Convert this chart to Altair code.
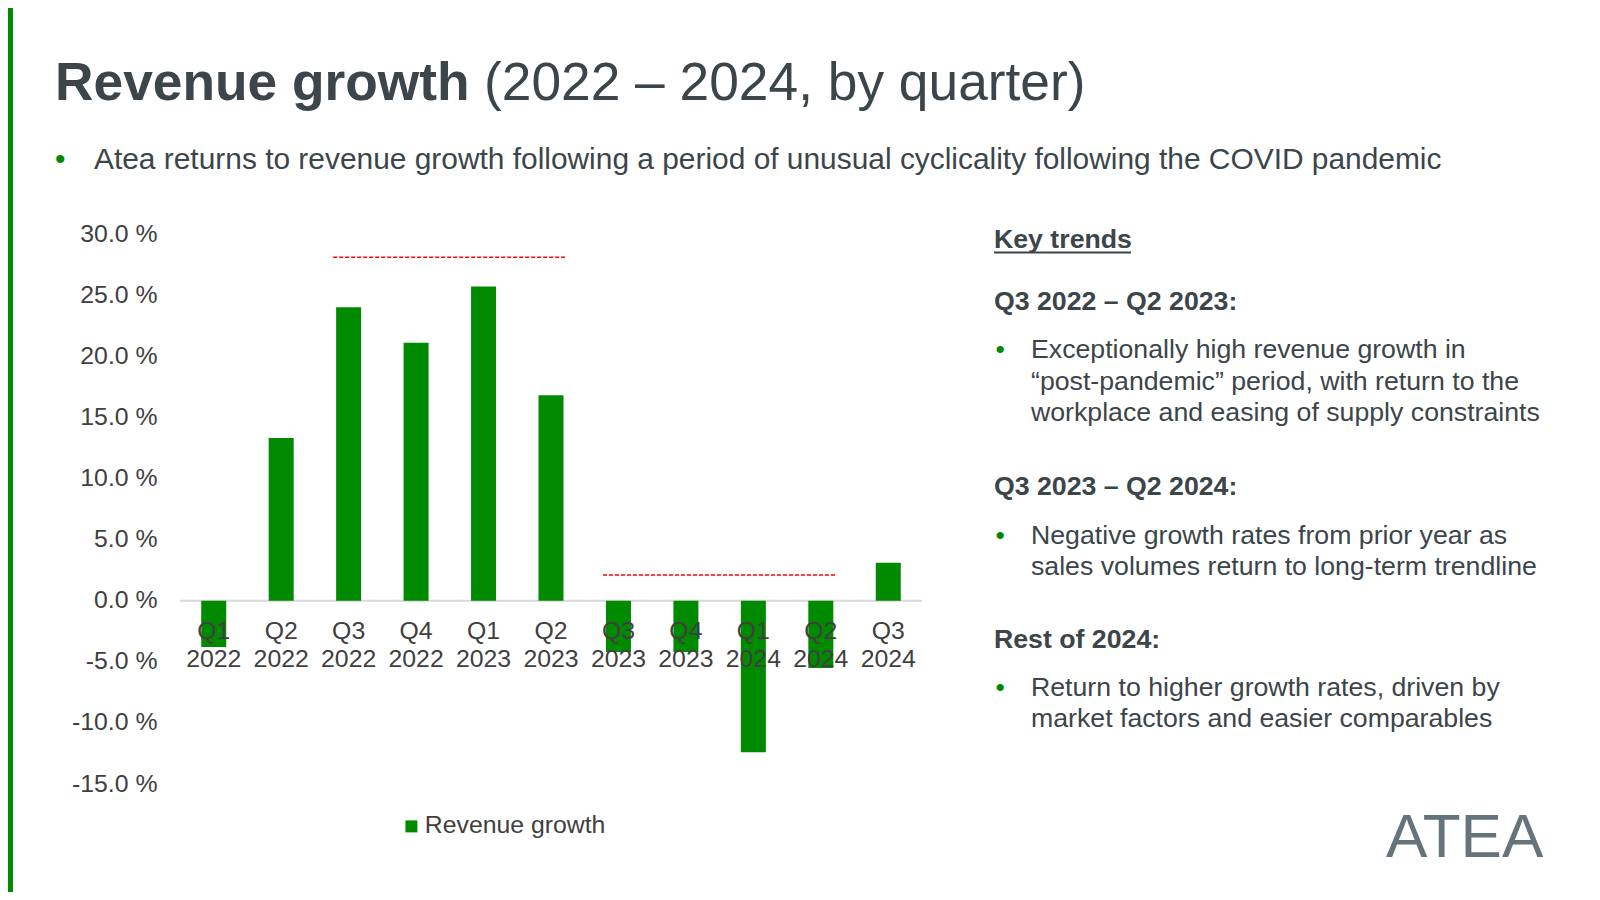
import altair as alt
import pandas as pd

# ---------------- data ----------------
quarters = ["Q1 2022", "Q2 2022", "Q3 2022", "Q4 2022", "Q1 2023", "Q2 2023",
            "Q3 2023", "Q4 2023", "Q1 2024", "Q2 2024", "Q3 2024"]
growth = [-3.8, 13.3, 24.0, 21.1, 25.7, 16.8, -4.2, -4.2, -12.4, -5.5, 3.1]
series_name = "Revenue growth"

period_start = ["Q3 2022", "Q3 2023"]
period_end = ["Q2 2023", "Q2 2024"]
period_level = [28.1, 2.1]

y_ticks = [-15, -10, -5, 0, 5, 10, 15, 20, 25, 30]

title_bold = "Revenue growth"
title_regular = "(2022 – 2024, by quarter)"
subtitle = "Atea returns to revenue growth following a period of unusual cyclicality following the COVID pandemic"

panel_header = "Key trends"
section_titles = ["Q3 2022 – Q2 2023:", "Q3 2023 – Q2 2024:", "Rest of 2024:"]
section_lines = [
    ["Exceptionally high revenue growth in",
     "“post-pandemic” period, with return to the",
     "workplace and easing of supply constraints"],
    ["Negative growth rates from prior year as",
     "sales volumes return to long-term trendline"],
    ["Return to higher growth rates, driven by",
     "market factors and easier comparables"],
]
logo_text = "ATEA"

# ---------------- style ----------------
GREEN = "#008a00"
TEXT = "#3b454a"
AXIS_TEXT = "#404040"
FONT = "Liberation Sans"
AXIS_FS = 24.8
PLOT_LEFT, PLOT_TOP = 180, 234   # page coordinates of plot origin
W, H = 742, 550


def rx(px):
    return px - PLOT_LEFT


def ry(py):
    return py - PLOT_TOP


def txt(s, x, y, size, weight="normal", color=TEXT, align="left"):
    return alt.Chart(pd.DataFrame({"t": [s]})).mark_text(
        align=align, baseline="alphabetic", fontSize=size, fontWeight=weight,
        color=color, font=FONT
    ).encode(x=alt.value(rx(x)), y=alt.value(ry(y)), text="t:N")


xscale = alt.Scale(domain=quarters, paddingInner=0.63, paddingOuter=0.315)
yscale = alt.Scale(domain=[-15, 30], nice=False, zero=False)

df = pd.DataFrame({"quarter": quarters, "growth": growth, "series": [series_name] * len(quarters)})
periods = pd.DataFrame({"start": period_start, "end": period_end, "level": period_level})

zero_line = alt.Chart(pd.DataFrame({"z": [0]})).mark_rule(color="#d9d9d9", strokeWidth=2).encode(
    y=alt.Y("z:Q", scale=yscale, title=None)
)

bars = alt.Chart(df).mark_bar(size=25).encode(
    x=alt.X("quarter:N", scale=xscale, axis=None, title=None),
    y=alt.Y("growth:Q", scale=yscale, title=None,
            axis=alt.Axis(values=y_ticks, domain=False, ticks=False, grid=False,
                          labelExpr="(datum.value < 0 ? '-' : '') + format(abs(datum.value), '.1f') + ' %'",
                          labelFontSize=AXIS_FS, labelFont=FONT, labelColor=AXIS_TEXT,
                          labelPadding=23)),
    color=alt.Color("series:N", scale=alt.Scale(range=[GREEN]),
                    legend=alt.Legend(title=None, orient="none", legendX=rx(399), legendY=ry(814),
                                      symbolType="square", symbolSize=144, symbolStrokeWidth=0,
                                      labelFontSize=AXIS_FS, labelFont=FONT, labelColor=AXIS_TEXT,
                                      labelOffset=1, labelLimit=0, padding=0))
)

x_labels = alt.Chart(df).mark_text(
    align="center", baseline="alphabetic", fontSize=AXIS_FS, font=FONT, color=AXIS_TEXT,
    lineBreak=" ", lineHeight=28.7, dy=38
).encode(
    x=alt.X("quarter:N", scale=xscale, axis=None, title=None),
    y=alt.datum(0),
    text="quarter:N",
)

dashes = alt.Chart(periods).mark_rule(color="#ff0000", strokeWidth=1.5, strokeDash=[4, 2],
                                      xOffset=-3, x2Offset=3).encode(
    x=alt.X("start:N", scale=xscale, bandPosition=0, axis=None, title=None),
    x2=alt.X2("end:N", bandPosition=1),
    y=alt.Y("level:Q", scale=yscale, title=None),
)

layers = [zero_line, bars, x_labels, dashes]

# left accent bar
layers.append(alt.Chart(pd.DataFrame({"a": [0]})).mark_rect(color=GREEN).encode(
    x=alt.value(rx(8)), x2=alt.value(rx(13)), y=alt.value(ry(8)), y2=alt.value(ry(892))))

# title
layers.append(txt(title_bold, 55, 100, 53.3, weight="bold"))
layers.append(txt(title_regular, 484, 100, 53.3))
# subtitle
layers.append(txt("•", 55, 169, 30, color=GREEN))
layers.append(txt(subtitle, 94, 169, 29.9))

# right panel
layers.append(txt(panel_header, 994, 248, 26.7, weight="bold"))
layers.append(alt.Chart(pd.DataFrame({"a": [0]})).mark_rule(color=TEXT, strokeWidth=2).encode(
    x=alt.value(rx(994)), x2=alt.value(rx(1131)), y=alt.value(ry(252.5))))

header_y = [310, 494.5, 647.5]
line_y = [[358.3, 389.8, 421.3], [543.5, 575], [695.5, 727]]
for title, ys_h, lines, ys in zip(section_titles, header_y, section_lines, line_y):
    layers.append(txt(title, 994, ys_h, 26.7, weight="bold"))
    layers.append(txt("•", 995.5, ys[0], 26.7, color=GREEN))
    for ln, yy in zip(lines, ys):
        layers.append(txt(ln, 1031, yy, 26.7))

# logo
layers.append(txt(logo_text, 1386, 857, 62, color="#65737b"))

chart = alt.layer(*layers).properties(
    width=W, height=H,
    padding={"left": PLOT_LEFT - 8, "top": PLOT_TOP - 8, "right": 1584 - (PLOT_LEFT - 8) - W,
             "bottom": 884 - (PLOT_TOP - 8) - H},
    autosize=alt.AutoSizeParams(type="none"),
    background="white",
).configure_view(stroke=None)

chart.save("out.html", embed_options={"renderer": "svg", "actions": False})
